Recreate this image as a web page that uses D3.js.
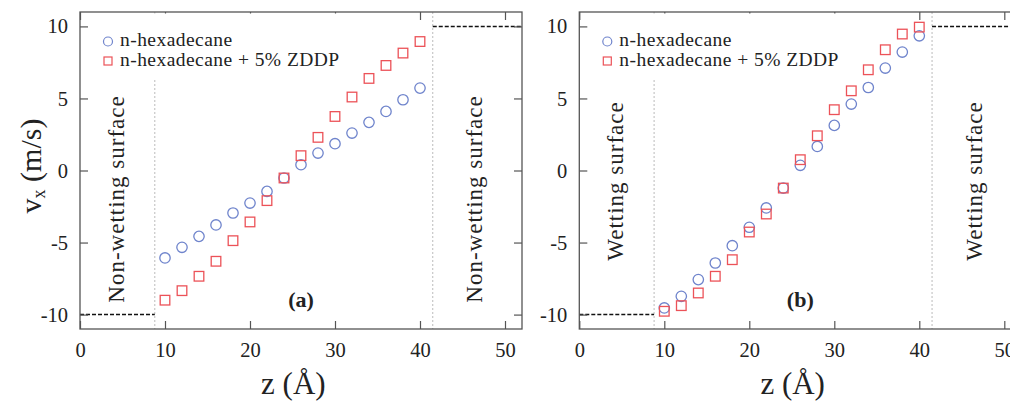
<!DOCTYPE html>
<html>
<head>
<meta charset="utf-8">
<script src="https://cdn.jsdelivr.net/npm/d3@7"></script>
<style>
html,body{margin:0;padding:0;background:#fff;}
svg{display:block;}
text{font-family:"Liberation Serif","DejaVu Serif",serif;fill:#222;}
</style>
</head>
<body>
<svg id="chart" width="1010" height="401"></svg>
<script>
// ---- data ----
const zValues = [10,12,14,16,18,20,22,24,26,28,30,32,34,36,38,40];
const hexA  = [-6.07,-5.33,-4.57,-3.78,-2.95,-2.26,-1.45,-0.52,0.40,1.21,1.86,2.60,3.34,4.10,4.91,5.72];
const zddpA = [-9.00,-8.34,-7.34,-6.30,-4.87,-3.57,-2.09,-0.52,1.03,2.30,3.75,5.10,6.39,7.29,8.15,8.95];
const hexB  = [-9.54,-8.73,-7.57,-6.42,-5.22,-3.94,-2.60,-1.22,0.36,1.67,3.13,4.61,5.76,7.11,8.22,9.35];
const zddpB = [-9.77,-9.38,-8.50,-7.34,-6.19,-4.27,-3.02,-1.22,0.75,2.41,4.22,5.53,6.99,8.38,9.47,9.95];
const xTicks = [0,10,20,30,40,50];
const yTicks = [-10,-5,0,5,10];
const seriesNames = ["n-hexadecane","n-hexadecane + 5% ZDDP"];
const panelLabels = ["(a)","(b)"];
const surfaceLabels = ["Non-wetting surface","Wetting surface"];
const wallLeft = 8.8, wallRight = 41.5;   // surface positions (Å)
const wallVel = [-10, 10];                // wall velocities

const colBlue = "#6f84cc", colRed = "#ec5258", frameCol = "#555";
const svg = d3.select("#chart");
const fmt = d => String(d);   // plain hyphen minus, as in the reference

const yScale = d3.scaleLinear().domain([-11,11]).range([329,12]);

function panel(x0, hex, zddp, plabel, slabel, slabelY) {
  const x = d3.scaleLinear().domain([0,52]).range([x0, x0+442]);
  const g = svg.append("g");
  const [top, bot] = [yScale(11), yScale(-11)];

  // dotted surface lines
  [wallLeft, wallRight].forEach(w => {
    g.append("line").attr("x1",x(w)).attr("x2",x(w)).attr("y1",top).attr("y2",bot)
      .attr("stroke","#bbb").attr("stroke-width",1).attr("stroke-dasharray","2,2");
  });
  // wall velocity dashed lines
  g.append("line").attr("x1",x(0)).attr("x2",x(wallLeft))
    .attr("y1",yScale(wallVel[0])).attr("y2",yScale(wallVel[0]))
    .attr("stroke","#111").attr("stroke-width",1.5).attr("stroke-dasharray","4,2");
  g.append("line").attr("x1",x(wallRight)).attr("x2",x(52))
    .attr("y1",yScale(wallVel[1])).attr("y2",yScale(wallVel[1]))
    .attr("stroke","#111").attr("stroke-width",1.5).attr("stroke-dasharray","4,2");

  // axes
  const ax = g.append("g").attr("transform",`translate(0,${bot})`)
    .call(d3.axisBottom(x).tickValues(xTicks).tickFormat(fmt).tickSize(-8).tickPadding(13).tickSizeOuter(0));
  const axT = g.append("g").attr("transform",`translate(0,${top})`)
    .call(d3.axisTop(x).tickValues(xTicks).tickSize(-8).tickFormat("").tickSizeOuter(0));
  const ay = g.append("g").attr("transform",`translate(${x0},0)`)
    .call(d3.axisLeft(yScale).tickValues(yTicks).tickFormat(fmt).tickSize(-8).tickPadding(12).tickSizeOuter(0));
  const ayR = g.append("g").attr("transform",`translate(${x0+442},0)`)
    .call(d3.axisRight(yScale).tickValues(yTicks).tickSize(-8).tickFormat("").tickSizeOuter(0));
  [ax,axT,ay,ayR].forEach(a => {
    a.select(".domain").remove();
    a.selectAll(".tick line").attr("stroke",frameCol).attr("stroke-width",1.2);
    a.selectAll(".tick text").attr("font-family","Liberation Serif").attr("font-size",20.5).attr("fill","#222");
  });
  g.append("rect").attr("x",x0).attr("y",top).attr("width",442).attr("height",bot-top)
    .attr("fill","none").attr("stroke",frameCol).attr("stroke-width",1.3);

  // legend background
  g.append("rect").attr("x",x(1.5)).attr("y",top+1.5).attr("width",x(32)-x(1.5)).attr("height",65)
    .attr("fill","#fff");

  // surface labels
  const xL = x(4.2), xR = x(46.4);
  [xL, xR].forEach(xx => {
    g.append("text").attr("transform",`translate(${xx},${slabelY}) rotate(-90)`)
      .attr("text-anchor","middle").attr("dy","0.35em").attr("font-size",23)
      .attr("letter-spacing",1).text(slabel);
  });

  // data markers
  g.selectAll("circle.hex").data(zValues.map((z,i)=>[z,hex[i]])).join("circle")
    .attr("class","hex").attr("cx",d=>x(d[0])).attr("cy",d=>yScale(d[1])).attr("r",5.2)
    .attr("fill","none").attr("stroke",colBlue).attr("stroke-width",1.3);
  const s = 9.6;
  g.selectAll("rect.zddp").data(zValues.map((z,i)=>[z,zddp[i]])).join("rect")
    .attr("class","zddp").attr("x",d=>x(d[0])-s/2).attr("y",d=>yScale(d[1])-s/2)
    .attr("width",s).attr("height",s)
    .attr("fill","none").attr("stroke",colRed).attr("stroke-width",1.3);

  // legend
  const lx = x0 + 28;
  g.append("circle").attr("cx",lx).attr("cy",41.5).attr("r",4.5)
    .attr("fill","none").attr("stroke",colBlue).attr("stroke-width",1.2);
  g.append("rect").attr("x",lx-4).attr("y",57).attr("width",8).attr("height",8)
    .attr("fill","none").attr("stroke",colRed).attr("stroke-width",1.2);
  g.append("text").attr("x",lx+12).attr("y",45.5).attr("font-size",19.5)
    .attr("letter-spacing",0.45).text(seriesNames[0]);
  g.append("text").attr("x",lx+12).attr("y",65.5).attr("font-size",19.5)
    .attr("letter-spacing",0.45).text(seriesNames[1]);

  // panel label
  g.append("text").attr("x",x(26)).attr("y",307).attr("text-anchor","middle")
    .attr("font-size",22).attr("font-weight","bold").text(plabel);

  // x-axis title
  g.append("text").attr("x",x(25.1)).attr("y",394).attr("text-anchor","middle")
    .attr("font-size",31).text("z (Å)");
}

panel(80, hexA, zddpA, panelLabels[0], surfaceLabels[0], 199);
panel(579.3, hexB, zddpB, panelLabels[1], surfaceLabels[1], 181);

// y-axis title
const yt = svg.append("text").attr("transform","translate(30,166) rotate(-90)")
  .attr("text-anchor","middle").attr("dy","0.35em").attr("font-size",30);
yt.append("tspan").text("v");
yt.append("tspan").attr("font-size",18).attr("dy","0.25em").text("x");
yt.append("tspan").attr("dy","-0.15em").text(" (m/s)");
</script>
</body>
</html>
